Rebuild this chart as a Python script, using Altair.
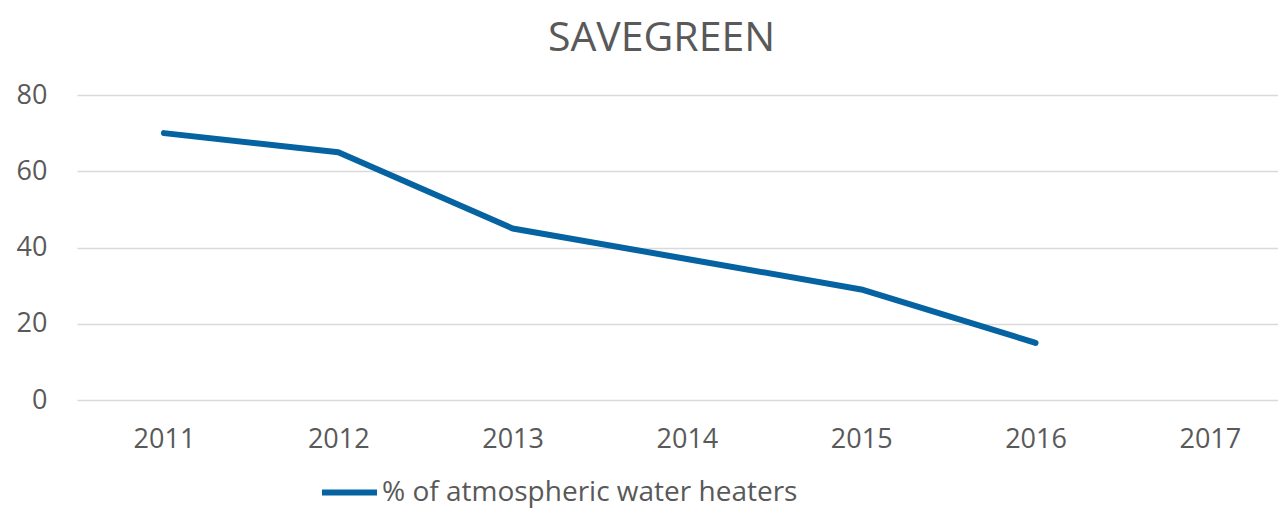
import altair as alt
import pandas as pd

years = [2011, 2012, 2013, 2014, 2015, 2016]
values = [70, 65, 45, 37, 29, 15]
axis_years = [2011, 2012, 2013, 2014, 2015, 2016, 2017]
y_ticks = [0, 20, 40, 60, 80]
series_name = "% of atmospheric water heaters"
title_text = "SAVEGREEN"

df = pd.DataFrame({"year": years, "value": values, "series": [series_name] * len(years)})

FONT = "Open Sans"
GRAY = "#595959"
BLUE = "#0563A1"

chart = (
    alt.Chart(df)
    .mark_line(strokeWidth=6, strokeCap="round", strokeJoin="round")
    .encode(
        x=alt.X(
            "year:Q",
            scale=alt.Scale(domain=[2010.501, 2017.391], nice=False, zero=False),
            axis=alt.Axis(
                values=axis_years,
                format="d",
                title=None,
                grid=False,
                domain=False,
                ticks=False,
                labelFont=FONT,
                labelFontSize=27,
                labelColor=GRAY,
                labelPadding=26,
            ),
        ),
        y=alt.Y(
            "value:Q",
            scale=alt.Scale(domain=[0, 80], nice=False),
            axis=alt.Axis(
                values=y_ticks,
                title=None,
                domain=False,
                ticks=False,
                gridColor="#D9D9D9",
                gridWidth=1.5,
                labelFont=FONT,
                labelFontSize=27,
                labelColor=GRAY,
                labelPadding=30,
            ),
        ),
        color=alt.Color(
            "series:N",
            scale=alt.Scale(range=[BLUE]),
            legend=alt.Legend(
                title=None,
                orient="none",
                legendX=242,
                legendY=367,
                symbolType="stroke",
                symbolSize=3025,
                symbolStrokeWidth=6,
                labelFont=FONT,
                labelFontSize=28,
                labelColor=GRAY,
                labelOffset=2,
                labelLimit=0,
                padding=0,
            ),
        ),
    )
    .properties(
        width=1201,
        height=305,
        padding={"left": 69, "top": 87, "right": 0, "bottom": 108},
        autosize=alt.AutoSizeParams(type="none"),
        title=alt.TitleParams(
            text=title_text,
            font=FONT,
            fontSize=41,
            fontWeight="normal",
            color=GRAY,
            anchor="middle",
            dx=-16,
            offset=21,
        ),
    )
    .configure_view(stroke=None)
)

chart.save("out.html", embed_options={"renderer": "svg", "actions": False})
